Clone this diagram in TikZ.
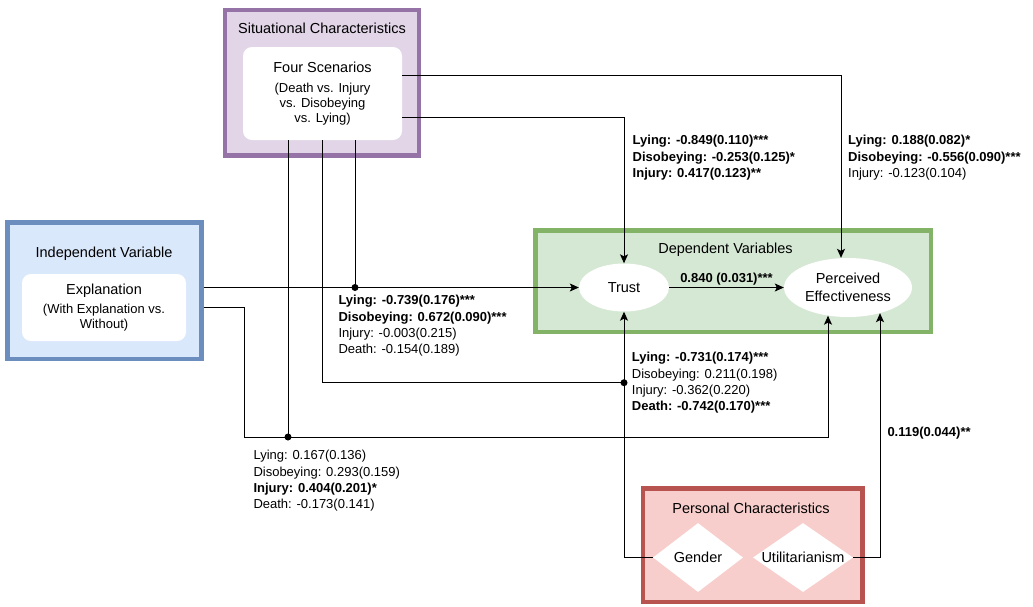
\documentclass[tikz,border=0pt]{standalone}
\usepackage{fontspec}
\setmainfont{Liberation Sans}
\usetikzlibrary{arrows.meta, calc, shapes.geometric, positioning}
\definecolor{sitline}{HTML}{9673A6}
\definecolor{sitfill}{HTML}{E1D5E7}
\definecolor{indline}{HTML}{6C8EBF}
\definecolor{indfill}{HTML}{DAE8FC}
\definecolor{depline}{HTML}{82B366}
\definecolor{depfill}{HTML}{D5E8D4}
\definecolor{perline}{HTML}{B85450}
\definecolor{perfill}{HTML}{F8CECC}
\tikzset{
  group/.style={rectangle, line width=4.5pt, inner sep=0pt},
  innerbox/.style={rectangle, fill=white, rounded corners=9pt, align=center, inner sep=0pt, font=\fontsize{13}{15}\selectfont},
  grouptitle/.style={inner sep=0pt, font=\fontsize{14.5}{17}\selectfont},
  var/.style={ellipse, fill=white, align=center, inner sep=0pt, font=\fontsize{14.5}{17.5}\selectfont},
  trait/.style={diamond, shape aspect=1.45, fill=white, inner sep=0pt, minimum height=69pt, font=\fontsize{14.5}{17}\selectfont},
  link/.style={line width=0.9pt, color=black},
  arrowlink/.style={link, -{Stealth[length=9pt, width=8pt, inset=2pt]}},
  stats/.style={align=left, anchor=north west, inner sep=0pt, font=\fontsize{13}{16.4}\selectfont}
}

\begin{document}
\begin{tikzpicture}[x=1pt, y=-1pt]
\useasboundingbox (0,0) rectangle (1033,606);

% situational characteristics
\node[group, draw=sitline, fill=sitfill, minimum width=194, minimum height=145.5] (sit) at (322,82.75) {};
\node[grouptitle] (sittitle) at (322,28) {Situational Characteristics};
\node[innerbox, minimum width=159, minimum height=93] (scen) at (322.5,93.5)
  {{\fontsize{14.5}{17}\selectfont Four Scenarios}\\[5pt](Death vs. Injury\\vs. Disobeying\\vs. Lying)};

% independent variable
\node[group, draw=indline, fill=indfill, minimum width=194, minimum height=136.5] (indep) at (104.5,290.75) {};
\node[grouptitle] (indtitle) at (104,254) {Independent Variable};
\node[innerbox, minimum width=164, minimum height=67] (expl) at (104,307.5)
  {{\fontsize{14.5}{17}\selectfont Explanation}\\[4pt](With Explanation vs.\\Without)};

% dependent variables
\node[group, draw=depline, fill=depfill, minimum width=395.5, minimum height=101.5] (dep) at (733.25,281.25) {};
\node[grouptitle] (deptitle) at (725.5,250) {Dependent Variables};
\node[var, minimum width=90, minimum height=48] (trust) at (624,287.5) {Trust};
\node[var, minimum width=128, minimum height=59] (pe) at (848,287.5) {Perceived\\Effectiveness};

% personal characteristics
\node[group, draw=perline, fill=perfill, minimum width=219.5, minimum height=113.5] (pers) at (752.75,545.25) {};
\node[grouptitle] (pertitle) at (751,508) {Personal Characteristics};
\node[trait, minimum width=90] (gender) at (698,557.5) {Gender};
\node[trait, minimum width=100] (util) at (803,557.5) {Utilitarianism};

% bends and junctions
\coordinate (s1) at ([xshift=-34.5]scen.south);
\coordinate (s3) at ([xshift=32.5]scen.south);
\coordinate (j1) at (s3 |- trust.west);
\coordinate (j2) at ($(trust.south)+(0,71)$);
\coordinate (elbow) at (244,437);
\coordinate (j3) at (s1 |- elbow);
\coordinate (pein1) at ([xshift=-7]pe.north);
\coordinate (pein2) at ([xshift=-20,yshift=1.5]pe.south);
\coordinate (pein3) at ([xshift=32,yshift=4]pe.south);

\draw[arrowlink] ([yshift=18.5]scen.east) -| (pein1);
\draw[arrowlink] ([yshift=-23.5]scen.east) -| (trust.north);
\draw[arrowlink] ([yshift=3.25]indep.east) -- (trust.west);
\draw[arrowlink] ([yshift=-16.75]indep.east) -| (elbow) -| (pein2);
\draw[link] (s3) -- (j1);
\draw[link] (scen.south) |- (j2);
\draw[link] (s1) -- (j3);
\draw[arrowlink] (gender.west) -| (trust.south);
\draw[arrowlink] (util.east) -| (pein3);
\draw[arrowlink] (trust.east) -- node[above=1.5pt, inner sep=0pt, font=\fontsize{13}{15}\selectfont\bfseries] (effect) {0.840 (0.031)***} (pe.west);
\foreach \j in {j1,j2,j3} \fill (\j) circle[radius=3.5];

% coefficients
\node[stats] (trustlbl) at (632.5,135) {\textbf{Lying: -0.849(0.110)***}\\\textbf{Disobeying: -0.253(0.125)*}\\\textbf{Injury: 0.417(0.123)**}};
\node[stats] (pelbl) at (848,135) {\textbf{Lying: 0.188(0.082)*}\\\textbf{Disobeying: -0.556(0.090)***}\\Injury: -0.123(0.104)};
\node[stats] (expllbl) at (338.3,295) {\textbf{Lying: -0.739(0.176)***}\\\textbf{Disobeying: 0.672(0.090)***}\\Injury: -0.003(0.215)\\Death: -0.154(0.189)};
\node[stats] (genderlbl) at (631.7,352) {\textbf{Lying: -0.731(0.174)***}\\Disobeying: 0.211(0.198)\\Injury: -0.362(0.220)\\\textbf{Death: -0.742(0.170)***}};
\node[stats] (explpelbl) at (253.3,450) {Lying: 0.167(0.136)\\Disobeying: 0.293(0.159)\\\textbf{Injury: 0.404(0.201)*}\\Death: -0.173(0.141)};
\node[stats] (utillbl) at (887.3,427) {\textbf{0.119(0.044)**}};
\end{tikzpicture}
\end{document}
